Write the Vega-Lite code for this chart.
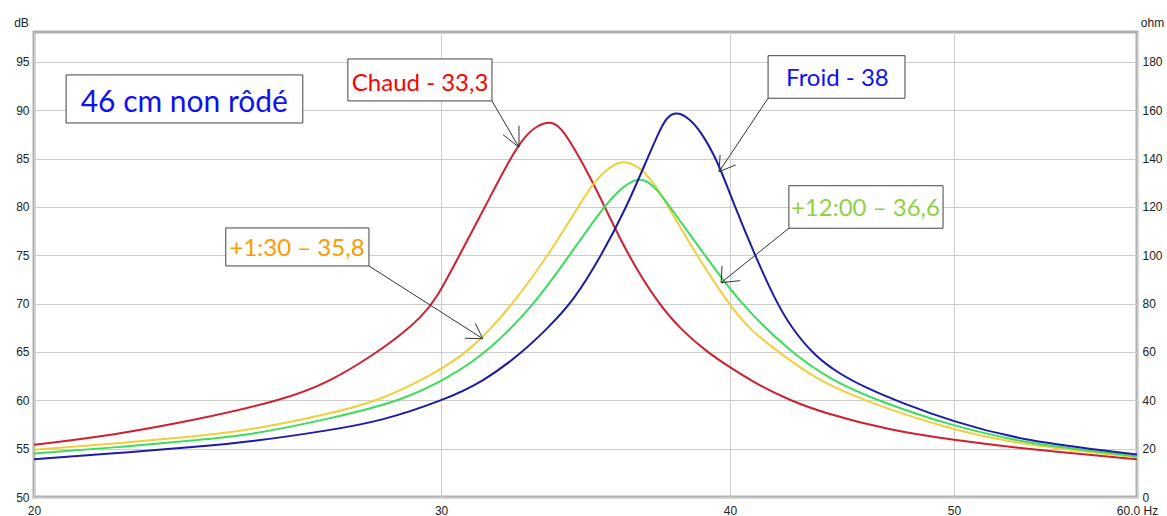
{
  "$schema": "https://vega.github.io/schema/vega-lite/v6.json",
  "width": 1103,
  "height": 465,
  "autosize": {"type": "none"},
  "padding": {"left": 34, "top": 32, "right": 30, "bottom": 19},
  "background": "white",
  "config": {
    "view": {"stroke": "#b0b0b0", "strokeWidth": 3},
    "axis": {
      "labelFont": "Liberation Sans",
      "labelFontSize": 12,
      "labelColor": "#222222",
      "titleFont": "Liberation Sans",
      "titleFontSize": 12,
      "titleFontWeight": "normal",
      "titleColor": "#222222",
      "domain": false,
      "ticks": false,
      "gridColor": "#cccccc",
      "gridWidth": 1
    }
  },
  "datasets": {
    "curves": [
      {"series": "Chaud", "f": 20, "db": 55.4},
      {"series": "Chaud", "f": 21.64, "db": 56.4},
      {"series": "Chaud", "f": 23.53, "db": 58.0},
      {"series": "Chaud", "f": 25.6, "db": 60.0},
      {"series": "Chaud", "f": 26.86, "db": 61.9},
      {"series": "Chaud", "f": 28.17, "db": 65.0},
      {"series": "Chaud", "f": 28.9, "db": 67.0},
      {"series": "Chaud", "f": 29.4, "db": 68.6},
      {"series": "Chaud", "f": 29.85, "db": 70.4},
      {"series": "Chaud", "f": 30.55, "db": 75.0},
      {"series": "Chaud", "f": 31.34, "db": 80.0},
      {"series": "Chaud", "f": 32.13, "db": 85.0},
      {"series": "Chaud", "f": 32.6, "db": 87.3},
      {"series": "Chaud", "f": 33.0, "db": 88.4},
      {"series": "Chaud", "f": 33.44, "db": 88.9},
      {"series": "Chaud", "f": 33.8, "db": 88.3},
      {"series": "Chaud", "f": 34.35, "db": 85.6},
      {"series": "Chaud", "f": 34.9, "db": 82.5},
      {"series": "Chaud", "f": 35.38, "db": 79.6},
      {"series": "Chaud", "f": 36.14, "db": 75.0},
      {"series": "Chaud", "f": 37.24, "db": 70.0},
      {"series": "Chaud", "f": 38.1, "db": 67.3},
      {"series": "Chaud", "f": 39.1, "db": 65.0},
      {"series": "Chaud", "f": 40.0, "db": 63.4},
      {"series": "Chaud", "f": 41.2, "db": 61.5},
      {"series": "Chaud", "f": 42.47, "db": 60.0},
      {"series": "Chaud", "f": 43.9, "db": 58.7},
      {"series": "Chaud", "f": 46.91, "db": 56.9},
      {"series": "Chaud", "f": 49.95, "db": 55.9},
      {"series": "Chaud", "f": 53.56, "db": 55.0},
      {"series": "Chaud", "f": 60, "db": 53.9},

      {"series": "+1:30", "f": 20, "db": 54.9},
      {"series": "+1:30", "f": 21.64, "db": 55.5},
      {"series": "+1:30", "f": 23.53, "db": 56.3},
      {"series": "+1:30", "f": 24.8, "db": 56.9},
      {"series": "+1:30", "f": 26.86, "db": 58.6},
      {"series": "+1:30", "f": 28.23, "db": 60.0},
      {"series": "+1:30", "f": 29.6, "db": 62.4},
      {"series": "+1:30", "f": 30.88, "db": 65.0},
      {"series": "+1:30", "f": 32.24, "db": 70.0},
      {"series": "+1:30", "f": 33.38, "db": 75.0},
      {"series": "+1:30", "f": 34.39, "db": 80.0},
      {"series": "+1:30", "f": 34.9, "db": 82.5},
      {"series": "+1:30", "f": 35.5, "db": 84.2},
      {"series": "+1:30", "f": 35.96, "db": 84.8},
      {"series": "+1:30", "f": 36.4, "db": 84.3},
      {"series": "+1:30", "f": 36.68, "db": 83.8},
      {"series": "+1:30", "f": 37.19, "db": 82.1},
      {"series": "+1:30", "f": 37.62, "db": 80.0},
      {"series": "+1:30", "f": 38.7, "db": 75.0},
      {"series": "+1:30", "f": 39.93, "db": 70.0},
      {"series": "+1:30", "f": 40.8, "db": 67.3},
      {"series": "+1:30", "f": 41.98, "db": 65.0},
      {"series": "+1:30", "f": 43.5, "db": 62.3},
      {"series": "+1:30", "f": 45.61, "db": 60.0},
      {"series": "+1:30", "f": 49.95, "db": 56.9},
      {"series": "+1:30", "f": 53.56, "db": 55.4},
      {"series": "+1:30", "f": 60, "db": 54.1},

      {"series": "+12:00", "f": 20, "db": 54.5},
      {"series": "+12:00", "f": 21.64, "db": 55.1},
      {"series": "+12:00", "f": 23.53, "db": 55.9},
      {"series": "+12:00", "f": 24.8, "db": 56.4},
      {"series": "+12:00", "f": 26.86, "db": 58.1},
      {"series": "+12:00", "f": 28.89, "db": 60.0},
      {"series": "+12:00", "f": 30.2, "db": 62.3},
      {"series": "+12:00", "f": 31.44, "db": 65.0},
      {"series": "+12:00", "f": 32.94, "db": 70.0},
      {"series": "+12:00", "f": 34.0, "db": 74.6},
      {"series": "+12:00", "f": 35.26, "db": 80.0},
      {"series": "+12:00", "f": 35.85, "db": 81.8},
      {"series": "+12:00", "f": 36.27, "db": 82.7},
      {"series": "+12:00", "f": 36.68, "db": 83.0},
      {"series": "+12:00", "f": 37.19, "db": 81.9},
      {"series": "+12:00", "f": 37.68, "db": 80.0},
      {"series": "+12:00", "f": 39.02, "db": 75.0},
      {"series": "+12:00", "f": 40.41, "db": 70.0},
      {"series": "+12:00", "f": 42.47, "db": 65.0},
      {"series": "+12:00", "f": 44.3, "db": 62.0},
      {"series": "+12:00", "f": 46.3, "db": 60.0},
      {"series": "+12:00", "f": 49.95, "db": 57.3},
      {"series": "+12:00", "f": 53.56, "db": 55.7},
      {"series": "+12:00", "f": 55.57, "db": 55.15},
      {"series": "+12:00", "f": 60, "db": 54.2},

      {"series": "Froid", "f": 20, "db": 53.9},
      {"series": "Froid", "f": 21.64, "db": 54.5},
      {"series": "Froid", "f": 23.53, "db": 55.2},
      {"series": "Froid", "f": 24.8, "db": 55.7},
      {"series": "Froid", "f": 26.86, "db": 56.9},
      {"series": "Froid", "f": 28.31, "db": 57.9},
      {"series": "Froid", "f": 30.06, "db": 60.0},
      {"series": "Froid", "f": 31.28, "db": 61.9},
      {"series": "Froid", "f": 32.55, "db": 65.0},
      {"series": "Froid", "f": 33.4, "db": 67.6},
      {"series": "Froid", "f": 34.21, "db": 70.2},
      {"series": "Froid", "f": 35.2, "db": 75.0},
      {"series": "Froid", "f": 36.09, "db": 80.0},
      {"series": "Froid", "f": 36.84, "db": 85.0},
      {"series": "Froid", "f": 37.31, "db": 88.0},
      {"series": "Froid", "f": 37.56, "db": 89.3},
      {"series": "Froid", "f": 37.94, "db": 89.9},
      {"series": "Froid", "f": 38.44, "db": 89.1},
      {"series": "Froid", "f": 38.83, "db": 87.9},
      {"series": "Froid", "f": 39.48, "db": 85.0},
      {"series": "Froid", "f": 40.2, "db": 80.0},
      {"series": "Froid", "f": 41.01, "db": 75.0},
      {"series": "Froid", "f": 41.84, "db": 70.4},
      {"series": "Froid", "f": 42.5, "db": 67.6},
      {"series": "Froid", "f": 43.47, "db": 64.7},
      {"series": "Froid", "f": 44.63, "db": 62.7},
      {"series": "Froid", "f": 45.8, "db": 61.3},
      {"series": "Froid", "f": 47.38, "db": 59.8},
      {"series": "Froid", "f": 49.95, "db": 57.8},
      {"series": "Froid", "f": 53.56, "db": 55.8},
      {"series": "Froid", "f": 60, "db": 54.4}
    ],
    "boxes": [
      {"name": "title", "f1": 20.65, "f2": 26.14, "d1": 88.69, "d2": 93.66},
      {"name": "Chaud", "f1": 27.34, "f2": 31.56, "d1": 90.97, "d2": 95.31},
      {"name": "Froid", "f1": 41.55, "f2": 47.62, "d1": 91.25, "d2": 95.65},
      {"name": "+12:00", "f1": 42.42, "f2": 49.46, "d1": 77.8, "d2": 82.2},
      {"name": "+1:30", "f1": 24.21, "f2": 27.92, "d1": 73.9, "d2": 77.83}
    ],
    "arrows": [
      {"f1": 31.56, "d1": 90.97, "f2": 32.42, "d2": 86.18},
      {"f1": 32.42, "d1": 88.41, "f2": 32.42, "d2": 86.18},
      {"f1": 31.91, "d1": 87.48, "f2": 32.42, "d2": 86.18},
      {"f1": 41.55, "d1": 91.25, "f2": 39.57, "d2": 83.65},
      {"f1": 39.61, "d1": 85.38, "f2": 39.57, "d2": 83.65},
      {"f1": 40.23, "d1": 84.35, "f2": 39.57, "d2": 83.65},
      {"f1": 42.42, "d1": 77.8, "f2": 39.65, "d2": 72.17},
      {"f1": 39.69, "d1": 73.9, "f2": 39.65, "d2": 72.17},
      {"f1": 40.41, "d1": 72.38, "f2": 39.65, "d2": 72.17},
      {"f1": 27.92, "d1": 73.9, "f2": 31.27, "d2": 66.38},
      {"f1": 31.04, "d1": 67.97, "f2": 31.27, "d2": 66.38},
      {"f1": 30.72, "d1": 66.42, "f2": 31.27, "d2": 66.38}
    ],
    "labels": [
      {"label": "Chaud - 33,3", "f": 29.38, "d": 92.03},
      {"label": "Froid - 38", "f": 44.52, "d": 92.52},
      {"label": "+12:00 – 36,6", "f": 45.78, "d": 79.07},
      {"label": "+1:30 – 35,8", "f": 25.99, "d": 74.96}
    ],
    "title": [
      {"label": "46 cm non rôdé", "f": 23.23, "d": 89.86}
    ]
  },
  "layer": [
    {
      "data": {"name": "curves"},
      "mark": {"type": "line", "strokeWidth": 2, "interpolate": "basis", "clip": true},
      "encoding": {
        "x": {
          "field": "f", "type": "quantitative",
          "scale": {"type": "log", "domain": [20, 60], "nice": false},
          "axis": {
            "values": [20, 30, 40, 50, 60],
            "labelExpr": "datum.value == 60 ? '60.0 Hz' : datum.label",
            "title": null, "grid": true, "labelPadding": 8, "labelFlush": false
          }
        },
        "y": {
          "field": "db", "type": "quantitative",
          "scale": {"domain": [50, 98.1], "nice": false, "zero": false},
          "axis": {
            "orient": "left",
            "values": [50, 55, 60, 65, 70, 75, 80, 85, 90, 95],
            "title": "dB", "titleAngle": 0, "titleX": -13, "titleY": -10,
            "titleAlign": "center", "titleBaseline": "middle",
            "grid": true, "labelPadding": 5
          }
        },
        "color": {
          "field": "series", "type": "nominal",
          "scale": {"domain": ["Chaud", "+1:30", "+12:00", "Froid"], "range": ["#d02030", "#f0cf3c", "#3ddc5c", "#1c1ca8"]},
          "legend": null
        },
        "order": {"field": "f", "type": "quantitative"}
      }
    },
    {
      "data": {"name": "boxes"},
      "mark": {"type": "rect", "fill": "white", "stroke": "#444444", "strokeWidth": 1},
      "encoding": {
        "x": {"field": "f1", "type": "quantitative", "axis": null},
        "x2": {"field": "f2"},
        "y": {
          "field": "d1", "type": "quantitative",
          "axis": {
            "orient": "right",
            "values": [50, 55, 60, 65, 70, 75, 80, 85, 90, 95],
            "labelExpr": "format((datum.value - 50) * 4, 'd')",
            "title": "ohm", "titleAngle": 0, "titleX": 15, "titleY": -10,
            "titleAlign": "center", "titleBaseline": "middle",
            "grid": false, "labelPadding": 5
          }
        },
        "y2": {"field": "d2"}
      }
    },
    {
      "data": {"name": "arrows"},
      "mark": {"type": "rule", "stroke": "#333333", "strokeWidth": 1},
      "encoding": {
        "x": {"field": "f1", "type": "quantitative", "axis": null},
        "x2": {"field": "f2"},
        "y": {"field": "d1", "type": "quantitative", "axis": null},
        "y2": {"field": "d2"}
      }
    },
    {
      "data": {"name": "labels"},
      "mark": {"type": "text", "font": "Lato", "fontSize": 24, "align": "center", "baseline": "alphabetic"},
      "encoding": {
        "x": {"field": "f", "type": "quantitative", "axis": null},
        "y": {"field": "d", "type": "quantitative", "axis": null},
        "text": {"field": "label"},
        "color": {
          "field": "label", "type": "nominal",
          "scale": {"domain": ["Chaud - 33,3", "Froid - 38", "+12:00 – 36,6", "+1:30 – 35,8"], "range": ["#ff0000", "#1010f0", "#8fcf4a", "#ff9a00"]},
          "legend": null
        }
      }
    },
    {
      "data": {"name": "title"},
      "mark": {"type": "text", "font": "Lato", "fontSize": 30, "align": "center", "baseline": "alphabetic", "color": "#1010f0"},
      "encoding": {
        "x": {"field": "f", "type": "quantitative", "axis": null},
        "y": {"field": "d", "type": "quantitative", "axis": null},
        "text": {"field": "label"}
      }
    }
  ],
  "resolve": {"axis": {"x": "independent", "y": "independent"}, "scale": {"color": "independent"}}
}
